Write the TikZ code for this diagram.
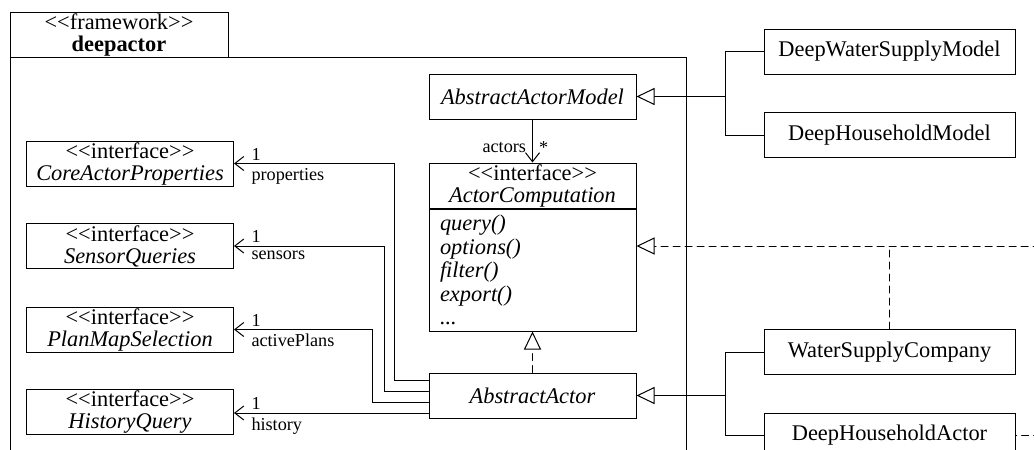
\documentclass[tikz,border=0pt]{standalone}
\usepackage{fontspec}
\setmainfont{Liberation Serif}
\usetikzlibrary{arrows.meta}

% stereotype brackets, kept apart so they do not turn into guillemets
\newcommand{\stereo}[1]{<\kern0pt<#1>\kern0pt>}

\begin{document}
\begin{tikzpicture}[line cap=round,line join=miter,x=0.5pt,y=-0.5pt, line width=0.5pt,
    cls/.style={draw, fill=white, minimum width=103.5pt, minimum height=22.5pt, inner sep=0pt, align=center, font=\fontsize{11.2}{11}\selectfont},
    wide/.style={cls, minimum width=125.5pt},
    lbl/.style={inner sep=0pt, font=\fontsize{9.1}{10}\selectfont},
    assoc/.style={-{Straight Barb[length=4.5pt,width=7pt]}},
    gen/.style={-{Triangle[open,length=9pt,width=8.5pt,fill=white]}},
    dashline/.style={dash pattern=on 3.5pt off 2.5pt},
    real/.style={gen, dashline}]
    \useasboundingbox (0,0) rectangle (1034,450);
    \clip (0,0) rectangle (1034,450);

    % package
    \draw (10,57) rectangle (686,470);
    \node[cls, minimum width=109pt] (tab) at (119,34.5) {\stereo{framework}\\\textbf{deepactor}};

    % interfaces on the left
    \node[cls] (cap) at (130,163.5) {\stereo{interface}\\\textit{CoreActorProperties}};
    \node[cls] (sq) at (130,246) {\stereo{interface}\\\textit{SensorQueries}};
    \node[cls] (pms) at (130,329.5) {\stereo{interface}\\\textit{PlanMapSelection}};
    \node[cls] (hq) at (130,412) {\stereo{interface}\\\textit{HistoryQuery}};

    % middle column
    \node[cls] (aam) at (532.5,96.5) {\textit{AbstractActorModel}};
    \node[cls] (acomp) at (532.5,185.5) {\stereo{interface}\\\textit{ActorComputation}};
    \node[cls, anchor=north, minimum height=61pt, text width=92.5pt, align=left,
          font=\fontsize{11.2}{11.75}\selectfont\itshape] (acompops) at (acomp.south)
          {query()\\options()\\filter()\\export()\\...};
    \node[cls] (aa) at (532.5,395.5) {\textit{AbstractActor}};

    % outside the package
    \node[wide] (dwsm) at (889.5,51.5) {DeepWaterSupplyModel};
    \node[wide] (dhm) at (889.5,135) {DeepHouseholdModel};
    \node[wide] (wsc) at (889.5,352) {WaterSupplyCompany};
    \node[wide] (dha) at (889.5,435.5) {DeepHouseholdActor};

    \draw[assoc] (aam) -- (acomp)
        node[lbl, pos=0.64, left=3pt] {actors}
        node[lbl, pos=0.66, right=3pt] {*};
    \draw[real] (aa.north) -- (acompops.south);

    % associations of AbstractActor
    \coordinate (aa1) at ([yshift=7.75pt]aa.west);
    \coordinate (aa2) at ([yshift=2.25pt]aa.west);
    \coordinate (aa3) at ([yshift=-3.25pt]aa.west);
    \coordinate (aa4) at ([yshift=-8.75pt]aa.west);
    \draw[assoc] (aa1) -- ++(-34,0) |- (cap.east);
    \draw[assoc] (aa2) -- ++(-44,0) |- (sq.east);
    \draw[assoc] (aa3) -- ++(-56,0) |- (pms.east);
    \draw[assoc] (aa4) -- (aa4 -| hq.east);

    \node[lbl, anchor=south west] at ([xshift=8.5pt,yshift=1.5pt]cap.east) {1};
    \node[lbl, anchor=north west] at ([xshift=8.5pt,yshift=-2pt]cap.east) {properties};
    \node[lbl, anchor=south west] at ([xshift=8.5pt,yshift=1.5pt]sq.east) {1};
    \node[lbl, anchor=north west] at ([xshift=8.5pt,yshift=-2pt]sq.east) {sensors};
    \node[lbl, anchor=south west] at ([xshift=8.5pt,yshift=1.5pt]pms.east) {1};
    \node[lbl, anchor=north west] at ([xshift=8.5pt,yshift=-2pt]pms.east) {activePlans};
    \node[lbl, anchor=south west] at ([xshift=8.5pt,yshift=1pt]hq.east) {1};
    \node[lbl, anchor=north west] at ([xshift=8.5pt,yshift=-2.5pt]hq.east) {history};

    % generalizations
    \coordinate (mfork) at (725,96.5);
    \draw[gen] (dwsm.west) -| (mfork) -- (aam.east);
    \draw (dhm.west) -| (mfork);
    \coordinate (afork) at (725,395.5);
    \draw[gen] (wsc.west) -| (afork) -- (aa.east);
    \draw (dha.west) -| (afork);

    % realizations running off the right edge
    \coordinate (rend) at (1040,246);
    \draw[real] (rend) -- (rend -| acompops.east);
    \draw[dashline] (wsc.north) -- (wsc.north |- rend);
    \coordinate (dhaout) at (1040,435.5);
    \draw[dashline, dash phase=3pt] (dha.east) -- (dhaout);
\end{tikzpicture}
\end{document}
